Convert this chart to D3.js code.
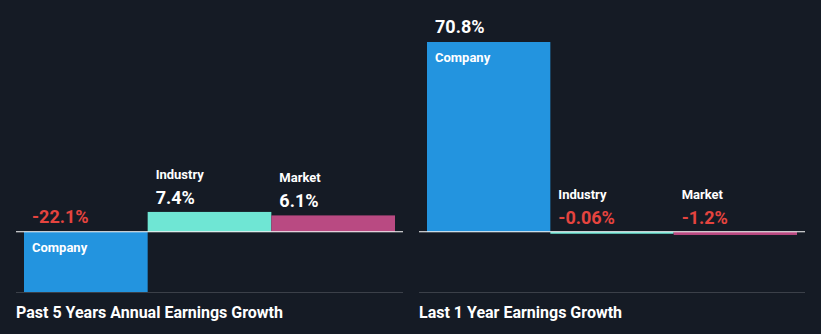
<!DOCTYPE html>
<html><head><meta charset="utf-8">
<script src="https://cdn.jsdelivr.net/npm/d3@7"></script>
<style>
html,body{margin:0;padding:0;background:#151b25;}
svg{display:block;font-family:Roboto,"Noto Sans",sans-serif;}
</style></head>
<body>
<svg id="chart" width="821" height="334"></svg>
<script>
const categories = ["Company", "Industry", "Market"];
const panelTitles = ["Past 5 Years Annual Earnings Growth", "Last 1 Year Earnings Growth"];
const past5Years = [-22.1, 7.4, 6.1];
const last1Year = [70.8, -0.06, -1.2];
const valueLabels5 = ["-22.1%", "7.4%", "6.1%"];
const valueLabels1 = ["70.8%", "-0.06%", "-1.2%"];

const colors = {Company: "#2394df", Industry: "#6fe6d4", Market: "#b94a82"};
const svg = d3.select("#chart");
const W = 821, H = 334;
svg.append("rect").attr("width", W).attr("height", H).attr("fill", "#151b25");

const all = past5Years.concat(last1Year);
const y = d3.scaleLinear().domain([d3.min(all), d3.max(all)]).range([291, 42]);
const y0 = y(0);

const panels = [
  {x: 16, w: 387, title: panelTitles[0], values: past5Years, labels: valueLabels5},
  {x: 419, w: 386, title: panelTitles[1], values: last1Year, labels: valueLabels1}
];

panels.forEach(p => {
  const g = svg.append("g");
  const x = d3.scaleBand().domain(categories).range([p.x + 8, p.x + p.w - 8]).padding(0);
  const data = categories.map((c, i) => ({c, v: p.values[i], label: p.labels[i]}));

  g.selectAll("rect.bar").data(data).join("rect")
    .attr("class", "bar")
    .attr("x", d => x(d.c))
    .attr("width", x.bandwidth())
    .attr("y", d => Math.min(y(d.v), y0))
    .attr("height", d => Math.max(Math.abs(y(d.v) - y0), 2) + (d.v === d3.min(all) ? 1 : 0))
    .attr("fill", d => colors[d.c]);

  g.append("line").attr("x1", p.x).attr("x2", p.x + p.w)
    .attr("y1", y0).attr("y2", y0).attr("stroke", "#ffffff").attr("stroke-width", 1.2);

  g.append("line").attr("x1", p.x).attr("x2", p.x + p.w)
    .attr("y1", 292.5).attr("y2", 292.5).attr("stroke", "#3b4049").attr("stroke-width", 1);

  data.forEach(d => {
    const top = Math.min(y(d.v), y0);
    const tx = x(d.c) + 8;
    const valColor = d.v < 0 ? "#e5443f" : "#ffffff";
    if (d.c === "Company") {
      g.append("text").attr("x", tx).attr("y", top + 20)
        .attr("fill", "#ffffff").attr("font-size", 13).attr("font-weight", 700).text(d.c);
      g.append("text").attr("x", tx).attr("y", top - 9)
        .attr("fill", valColor).attr("font-size", 18).attr("font-weight", 700).text(d.label);
    } else {
      g.append("text").attr("x", tx).attr("y", top - 8)
        .attr("fill", valColor).attr("font-size", 18).attr("font-weight", 700).text(d.label);
      g.append("text").attr("x", tx).attr("y", top - 33)
        .attr("fill", "#ffffff").attr("font-size", 13).attr("font-weight", 700).text(d.c);
    }
  });

  g.append("text").attr("x", p.x).attr("y", 318)
    .attr("fill", "#ffffff").attr("font-size", 16).attr("font-weight", 700).text(p.title);
});
</script>
</body></html>
